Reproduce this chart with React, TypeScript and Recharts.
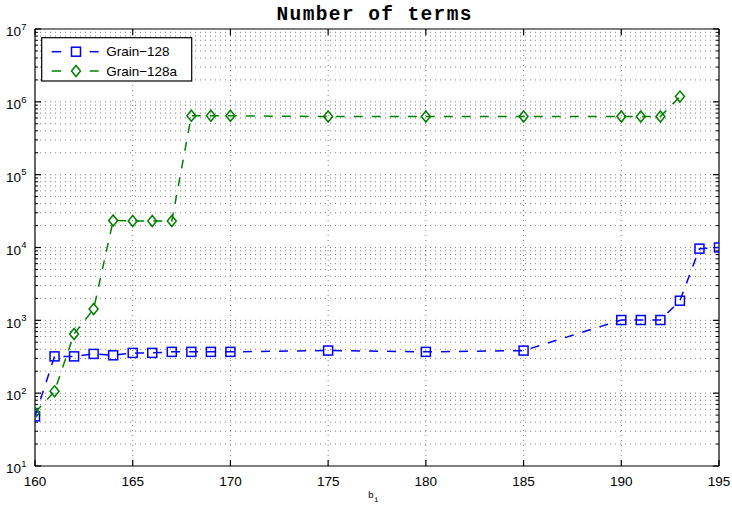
import { LineChart, Line, XAxis, YAxis, ReferenceLine } from "recharts"

// b_i values and term counts
const bits128 = [160, 161, 162, 163, 164, 165, 166, 167, 168, 169, 170, 175, 180, 185, 190, 191, 192, 193, 194, 195]
const grain128 = [48, 320, 320, 346, 331, 357, 357, 369, 369, 369, 369, 385, 369, 384, 1010, 1010, 1010, 1860, 9640, 10000]

const bits128a = [160, 161, 162, 163, 164, 165, 166, 167, 168, 169, 170, 175, 180, 185, 190, 191, 192, 193]
const grain128a = [
  54, 106, 650, 1430, 23500, 23100, 23100, 23100, 643000, 643000, 643000, 628000, 628000, 628000, 628000,
  628000, 628000, 1180000,
]

const xTicks = [160, 165, 170, 175, 180, 185, 190, 195]
const yTicks = [1e1, 1e2, 1e3, 1e4, 1e5, 1e6, 1e7]
const minorMult = [2, 3, 4, 5, 6, 7, 8, 9]

const seriesA = bits128.map((x, i) => ({ x, y: grain128[i] }))
const seriesB = bits128a.map((x, i) => ({ x, y: grain128a[i] }))

const yMinor: number[] = []
yTicks.slice(0, -1).forEach((d) => minorMult.forEach((m) => yMinor.push(d * m)))

const BLUE = "#0000ff"
const GREEN = "#008000"
const FONT = "'Liberation Sans', Arial, sans-serif"
const MONO = "'Liberation Mono', 'Courier New', monospace"

// inward tick lengths in data units
const xTickLen = 0.31
const xMinorLen = 0.155
const yTickFac = 1.21

function Square({ cx, cy, color }: any) {
  if (cx == null || cy == null) return null
  return <rect x={cx - 4.5} y={cy - 4.5} width={9} height={9} fill="none" stroke={color} strokeWidth={1.5} />
}

function Diamond({ cx, cy, color }: any) {
  if (cx == null || cy == null) return null
  return (
    <polygon
      points={`${cx},${cy - 5.5} ${cx + 4.5},${cy} ${cx},${cy + 5.5} ${cx - 4.5},${cy}`}
      fill="none"
      stroke={color}
      strokeWidth={1.5}
    />
  )
}

function XTick({ x, payload }: any) {
  return (
    <text x={x} y={486} textAnchor="middle" fontFamily={FONT} fontSize={13.5} fill="#000">
      {payload.value}
    </text>
  )
}

function YTick({ y, payload }: any) {
  const exp = Math.round(Math.log10(payload.value))
  return (
    <g>
      <text x={21} y={y + 7.3} textAnchor="end" fontFamily={FONT} fontSize={13.5} fill="#000">
        10
      </text>
      <text x={21.3} y={y + 0.8} textAnchor="start" fontFamily={FONT} fontSize={9.5} fill="#000">
        {exp}
      </text>
    </g>
  )
}

const gridProps = { stroke: "#000", strokeOpacity: 0.5, strokeDasharray: "1 4", strokeWidth: 1 }

export default function App() {
  return (
    <div style={{ position: "absolute", left: 0, top: 0, width: 732, height: 511, background: "#fff" }}>
      <LineChart width={732} height={511} margin={{ top: 29, right: 13, bottom: 15, left: 5 }}>
        <XAxis
          dataKey="x"
          type="number"
          domain={[160, 195]}
          ticks={xTicks}
          tick={<XTick />}
          tickLine={false}
          axisLine={false}
          height={30}
          allowDataOverflow
        />
        <YAxis
          scale="log"
          domain={[10, 1e7]}
          ticks={yTicks}
          tick={<YTick />}
          tickLine={false}
          axisLine={false}
          width={30}
          allowDataOverflow
        />
        {/* dotted grid */}
        {xTicks.slice(1, -1).map((v) => (
          <ReferenceLine key={"gx" + v} x={v} {...gridProps} />
        ))}
        {yMinor.concat(yTicks.slice(1, -1)).map((v) => (
          <ReferenceLine key={"gy" + v} y={v} {...gridProps} />
        ))}
        {/* inward ticks */}
        {xTicks.map((v) => (
          <ReferenceLine key={"tb" + v} segment={[{ x: v, y: 10 }, { x: v, y: 10 * yTickFac }]} stroke="#000" strokeWidth={1.2} />
        ))}
        {xTicks.map((v) => (
          <ReferenceLine key={"tt" + v} segment={[{ x: v, y: 1e7 }, { x: v, y: 1e7 / yTickFac }]} stroke="#000" strokeWidth={1.2} />
        ))}
        {yTicks.map((v) => (
          <ReferenceLine key={"tl" + v} segment={[{ x: 160, y: v }, { x: 160 + xTickLen, y: v }]} stroke="#000" strokeWidth={1.2} />
        ))}
        {yTicks.map((v) => (
          <ReferenceLine key={"tr" + v} segment={[{ x: 195, y: v }, { x: 195 - xTickLen, y: v }]} stroke="#000" strokeWidth={1.2} />
        ))}
        {yMinor.map((v) => (
          <ReferenceLine key={"ml" + v} segment={[{ x: 160, y: v }, { x: 160 + xMinorLen, y: v }]} stroke="#000" />
        ))}
        {yMinor.map((v) => (
          <ReferenceLine key={"mr" + v} segment={[{ x: 195, y: v }, { x: 195 - xMinorLen, y: v }]} stroke="#000" />
        ))}
        {/* axes box */}
        <ReferenceLine x={160} stroke="#000" strokeWidth={1.2} />
        <ReferenceLine x={195} stroke="#000" strokeWidth={1.2} />
        <ReferenceLine y={10} stroke="#000" strokeWidth={1.2} />
        <ReferenceLine y={1e7} stroke="#000" strokeWidth={1.2} />
        <Line
          data={seriesA}
          dataKey="y"
          name="Grain-128"
          type="linear"
          stroke={BLUE}
          strokeWidth={1.5}
          strokeDasharray="9 9"
          dot={(p: any) => <Square key={"a" + p.index} cx={p.cx} cy={p.cy} color={BLUE} />}
          activeDot={false}
          isAnimationActive={false}
        />
        <Line
          data={seriesB}
          dataKey="y"
          name="Grain-128a"
          type="linear"
          stroke={GREEN}
          strokeWidth={1.5}
          strokeDasharray="9 9"
          dot={(p: any) => <Diamond key={"b" + p.index} cx={p.cx} cy={p.cy} color={GREEN} />}
          activeDot={false}
          isAnimationActive={false}
        />
      </LineChart>
      <svg
        width={732}
        height={511}
        style={{ position: "absolute", left: 0, top: 0, pointerEvents: "none" }}
      >
        <text
          x={374}
          y={19.5}
          textAnchor="middle"
          fontFamily={MONO}
          fontWeight="bold"
          fontSize={19.5}
          textLength={195}
          lengthAdjust="spacing"
          fill="#000"
        >
          Number of terms
        </text>
        <text x={368} y={498.3} fontFamily={MONO} fontSize={9.5} fill="#000">
          b
        </text>
        <text x={374} y={502} fontFamily={MONO} fontSize={7.5} fill="#000">
          i
        </text>
        <g transform="translate(41.7,37.7)">
          <rect x={0} y={0} width={150} height={43.3} fill="#fff" stroke="#000" strokeWidth={1.2} />
          <line x1={10} x2={19.5} y1={14} y2={14} stroke={BLUE} strokeWidth={1.5} />
          <line x1={48} x2={57} y1={14} y2={14} stroke={BLUE} strokeWidth={1.5} />
          <Square cx={34.3} cy={14} color={BLUE} />
          <text x={64.5} y={18.8} fontFamily={FONT} fontSize={13.5} fill="#000">
            Grain−128
          </text>
          <line x1={10} x2={19.5} y1={33.3} y2={33.3} stroke={GREEN} strokeWidth={1.5} />
          <line x1={48} x2={57} y1={33.3} y2={33.3} stroke={GREEN} strokeWidth={1.5} />
          <Diamond cx={34.3} cy={33.3} color={GREEN} />
          <text x={64.5} y={38.1} fontFamily={FONT} fontSize={13.5} fill="#000">
            Grain−128a
          </text>
        </g>
      </svg>
    </div>
  )
}
